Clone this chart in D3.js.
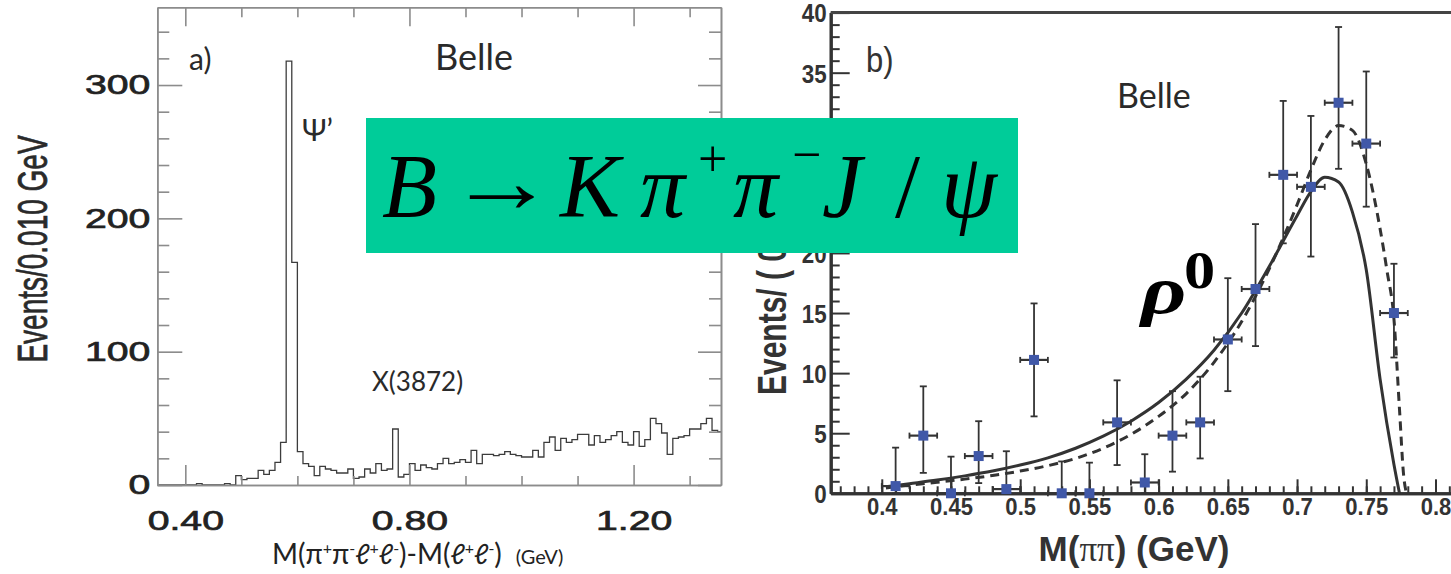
<!DOCTYPE html>
<html>
<head>
<meta charset="utf-8">
<script src="https://cdn.jsdelivr.net/npm/d3@7"></script>
<style>
  body { margin: 0; background: #fff; }
  svg { display: block; background: #fff; }
</style>
</head>
<body>
<svg></svg>
<script>
// ---- panel a: M(pi pi l l) - M(l l), 0.010 GeV bins from 0.35 GeV
let binStart = 0.35;
let binWidth = 0.01;
let histCounts = [
    0, 0, 0, 0, 0, 0, 0, 1, 0, 0,
    0, 0, 1, 0, 7, 4, 5, 5, 11, 8,
    11, 17, 32, 318, 167, 25, 16, 14, 7, 14,
    12, 11, 9, 9, 12, 5, 6, 12, 9, 16,
    11, 12, 42, 6, 8, 16, 11, 15, 13, 12,
    16, 20, 16, 17, 19, 17, 26, 16, 23, 23,
    22, 23, 25, 23, 22, 21, 21, 26, 21, 32,
    36, 26, 35, 32, 34, 38, 38, 30, 37, 32,
    34, 37, 40, 32, 30, 40, 29, 34, 50, 46,
    39, 23, 35, 36, 37, 42, 42, 46, 50, 41,
    40
];
let aMajorX = [0.40, 0.80, 1.20];
let aMinorX = [0.50, 0.60, 0.70, 0.90, 1.00, 1.10, 1.30];
let aMajorY = [0, 100, 200, 300];
let aMinorY = [20, 40, 60, 80, 120, 140, 160, 180, 220, 240, 260, 280, 320, 340];

// ---- panel b: M(pi pi) for X(3872)
let mppX = [0.41, 0.43, 0.45, 0.47, 0.49, 0.51, 0.53, 0.55, 0.57, 0.59,
            0.61, 0.63, 0.65, 0.67, 0.69, 0.71, 0.73, 0.75, 0.77];
let mppY = [0.6, 4.8, 0, 3.1, 0.35, 11.1, 0, 0, 5.9, 0.9,
            4.8, 5.9, 12.8, 17.0, 26.5, 25.5, 32.5, 29.1, 15.0];
let mppLo = [0, 1.7, 0, 0.85, 0, 6.4, 0, 0, 2.35, 0,
             1.8, 2.9, 8.5, 12.25, 20.8, 19.7, 27.0, 23.85, 11.3];
let mppHi = [3.8, 8.9, 3.05, 6.0, 3.5, 15.8, 2.65, 2.55, 9.4, 3.25,
             8.5, 9.7, 17.9, 22.4, 32.65, 31.4, 38.8, 35.1, 19.1];
let halfBin = 0.01;

let solidX = [0.403, 0.42, 0.44, 0.46, 0.48, 0.50, 0.52, 0.54, 0.56, 0.58, 0.60, 0.62,
              0.64, 0.66, 0.68, 0.70, 0.71, 0.72, 0.73, 0.74, 0.75, 0.76, 0.77, 0.774];
let solidY = [0.55, 0.8, 1.1, 1.45, 1.85, 2.35, 2.95, 3.75, 4.75, 6.0, 7.55, 9.5,
              11.9, 15.0, 18.9, 23.1, 25.1, 26.3, 25.9, 23.4, 18.6, 9.5, 2.4, 0];
let dashX = [0.403, 0.42, 0.44, 0.46, 0.48, 0.50, 0.52, 0.54, 0.56, 0.58, 0.60, 0.62,
             0.64, 0.66, 0.68, 0.70, 0.71, 0.72, 0.73, 0.74, 0.75, 0.76, 0.765, 0.77, 0.774, 0.777, 0.779];
let dashY = [0.45, 0.68, 0.92, 1.18, 1.48, 1.85, 2.3, 2.9, 3.75, 4.9, 6.4, 8.3,
             10.9, 14.3, 18.7, 24.0, 26.9, 29.4, 30.6, 30.2, 27.4, 22.0, 18.5, 14.5, 7, 1.5, 0];

let bMajorX = [0.4, 0.45, 0.5, 0.55, 0.6, 0.65, 0.7, 0.75, 0.8];
let bMajorY = [0, 5, 10, 15, 20, 25, 30, 35, 40];

let width = 1451;
let height = 574;
let boxTop = 118;
let boxBottom = 253;

let svg = d3.select('svg')
    .attr('width', width)
    .attr('height', height);

let defs = svg.append('defs');

// ================= panel a =================
let xa = d3.scaleLinear().domain([0.35, 1.356]).range([157.3, 721]);
let ya = d3.scaleLinear().domain([0, 358.3]).range([485, 7.3]);
let frameGrey = '#8c8c8c';
let stretch = 1.4;

defs.append('clipPath')
        .attr('id', 'clip-a')
    .append('rect')
        .attr('x', xa.range()[0])
        .attr('y', ya.range()[1])
        .attr('width', xa.range()[1] - xa.range()[0])
        .attr('height', ya.range()[0] - ya.range()[1]);

let a = svg.append('g').classed('panel-a', true);

let steps = histCounts.map((c, i) => ({ x0: binStart + i * binWidth, count: c }));
steps.push({ x0: binStart + histCounts.length * binWidth, count: histCounts[histCounts.length - 1] });

a.append('path')
    .datum(steps)
    .attr('clip-path', 'url(#clip-a)')
    .attr('fill', 'none')
    .attr('stroke', '#3c3c3c')
    .attr('stroke-width', 1.3)
    .attr('d', d3.line().curve(d3.curveStepAfter).x(d => xa(d.x0)).y(d => ya(d.count)));

function greyAxis(g) {
    g.select('.domain').attr('stroke', frameGrey).attr('stroke-width', 1.6);
    g.selectAll('.tick line').attr('stroke', frameGrey).attr('stroke-width', 1.6);
}

a.append('g').attr('transform', `translate(0 ${ya(0)})`)
    .call(d3.axisBottom(xa).tickValues(aMinorX).tickSize(-9).tickSizeOuter(0).tickFormat(''))
    .call(greyAxis);
a.append('g').attr('transform', `translate(0 ${ya(0)})`)
    .call(d3.axisBottom(xa).tickValues(aMajorX).tickSize(-20).tickSizeOuter(0).tickPadding(25).tickFormat(d3.format('.2f')))
    .call(greyAxis)
    .call(g => g.selectAll('text')
        .attr('fill', '#222')
        .attr('stroke', '#222')
        .attr('stroke-width', 0.7)
        .style('font', '28px "Liberation Sans", Arial, sans-serif')
        .attr('transform', `scale(${stretch} 1)`));

a.append('g').attr('transform', `translate(0 ${ya.range()[1]})`)
    .call(d3.axisTop(xa).tickValues(aMinorX).tickSize(-10).tickSizeOuter(0).tickFormat(''))
    .call(greyAxis);
a.append('g').attr('transform', `translate(0 ${ya.range()[1]})`)
    .call(d3.axisTop(xa).tickValues(aMajorX).tickSize(-19).tickSizeOuter(0).tickFormat(''))
    .call(greyAxis);

a.append('g').attr('transform', `translate(${xa.range()[0]} 0)`)
    .call(d3.axisLeft(ya).tickValues(aMinorY).tickSize(-12).tickSizeOuter(0).tickFormat(''))
    .call(greyAxis);
a.append('g').attr('transform', `translate(${xa.range()[0]} 0)`)
    .call(d3.axisLeft(ya).tickValues(aMajorY).tickSize(-25).tickSizeOuter(0).tickPadding(7))
    .call(greyAxis)
    .call(g => g.selectAll('text')
        .attr('fill', '#222')
        .attr('stroke', '#222')
        .attr('stroke-width', 0.7)
        .attr('x', -7 / stretch)
        .style('font', '28px "Liberation Sans", Arial, sans-serif')
        .attr('transform', `scale(${stretch} 1)`));

a.append('g').attr('transform', `translate(${xa.range()[1]} 0)`)
    .call(d3.axisRight(ya).tickValues(aMinorY).tickSize(-12).tickSizeOuter(0).tickFormat(''))
    .call(greyAxis);
a.append('g').attr('transform', `translate(${xa.range()[1]} 0)`)
    .call(d3.axisRight(ya).tickValues(aMajorY).tickSize(-23).tickSizeOuter(0).tickFormat(''))
    .call(greyAxis);

a.append('text')
    .attr('transform', `translate(47 249) scale(1.5 1) rotate(-90)`)
    .attr('text-anchor', 'middle')
    .attr('fill', '#2a2a2a')
    .attr('stroke', '#2a2a2a')
    .attr('stroke-width', 0.5)
    .style('font', '28px "Liberation Sans", Arial, sans-serif')
    .text('Events/0.010 GeV');

let calib = 'Lato, "Open Sans", sans-serif';
a.append('text').attr('x', 189).attr('y', 70).attr('fill', '#2a2a2a')
    .style('font', `30px ${calib}`).text('a)');
a.append('text').attr('x', 435).attr('y', 70).attr('fill', '#2a2a2a')
    .style('font', `36px ${calib}`).text('Belle');
a.append('text').attr('x', 302).attr('y', 141).attr('fill', '#2a2a2a')
    .style('font', `30px ${calib}`).text('Ψ’');
a.append('text').attr('x', 372).attr('y', 391).attr('fill', '#2a2a2a')
    .style('font', `26px ${calib}`).text('X(3872)');

let xTitleA = a.append('text').attr('x', 272).attr('y', 564).attr('fill', '#222')
    .style('font', `28px ${calib}`);
let sup = t => {
    xTitleA.append('tspan').attr('dy', -10).style('font-size', '16px').text(t);
};
xTitleA.append('tspan').text('M(π');
sup('+');
xTitleA.append('tspan').attr('dy', 10).text('π');
sup('-');
xTitleA.append('tspan').attr('dy', 10).style('font-style', 'italic').text('ℓ');
sup('+');
xTitleA.append('tspan').attr('dy', 10).style('font-style', 'italic').text('ℓ');
sup('-');
xTitleA.append('tspan').attr('dy', 10).text(')-M(');
xTitleA.append('tspan').style('font-style', 'italic').text('ℓ');
sup('+');
xTitleA.append('tspan').attr('dy', 10).style('font-style', 'italic').text('ℓ');
sup('-');
xTitleA.append('tspan').attr('dy', 10).text(')');
xTitleA.append('tspan').attr('dx', 14).style('font-size', '20px').text('(GeV)');

// ================= panel b =================
let xb = d3.scaleLinear().domain([0.3631, 0.83]).range([830.7, 1477]);
let yb = d3.scaleLinear().domain([0, 40]).range([493.3, 12.6]);
let ink = '#333';
let squeeze = 0.86;

let b = svg.append('g').classed('panel-b', true);

function darkAxis(g) {
    g.select('.domain').attr('stroke', ink).attr('stroke-width', 3);
    g.selectAll('.tick line').attr('stroke', ink).attr('stroke-width', 2);
}

b.append('g').attr('transform', `translate(0 ${yb(0)})`)
    .call(d3.axisBottom(xb).tickValues(d3.range(37, 83).map(d => d / 100)).tickSize(-7).tickSizeOuter(0).tickFormat(''))
    .call(darkAxis);
b.append('g').attr('transform', `translate(0 ${yb(0)})`)
    .call(d3.axisBottom(xb).tickValues(bMajorX).tickSize(-14).tickSizeOuter(0).tickPadding(5)
        .tickFormat(d => String(+d.toFixed(2))))
    .call(darkAxis)
    .call(g => g.selectAll('text')
        .attr('fill', ink)
        .style('font', 'bold 24px "Liberation Sans", Arial, sans-serif')
        .attr('transform', 'scale(0.92 1)'));

// labels that the title box covers completely are left out
let hiddenByBox = d => yb(d) - 10 > boxTop && yb(d) + 10 < boxBottom;

b.append('g').attr('transform', `translate(${xb.range()[0]} 0)`)
    .call(d3.axisLeft(yb).tickValues(d3.range(1, 40).filter(d => d % 5 !== 0)).tickSize(-9).tickSizeOuter(0).tickFormat(''))
    .call(darkAxis);
b.append('g').attr('transform', `translate(${xb.range()[0]} 0)`)
    .call(d3.axisLeft(yb).tickValues(bMajorY).tickSize(-19).tickSizeOuter(0).tickPadding(4)
        .tickFormat(d => hiddenByBox(d) ? '' : d))
    .call(darkAxis)
    .call(g => g.selectAll('text')
        .attr('fill', ink)
        .attr('x', -4 / squeeze)
        .attr('dy', '0.36em')
        .style('font', 'bold 26px "Liberation Sans", Arial, sans-serif')
        .attr('transform', `scale(${squeeze} 1)`));

b.append('line')
    .attr('x1', xb.range()[0]).attr('x2', width)
    .attr('y1', yb(40)).attr('y2', yb(40))
    .attr('stroke', '#444').attr('stroke-width', 3);

let solidPts = solidX.map((x, i) => [x, solidY[i]]);
let dashPts = dashX.map((x, i) => [x, dashY[i]]);
let curve = d3.line().curve(d3.curveMonotoneX).x(d => xb(d[0])).y(d => yb(d[1]));

b.append('path').datum(dashPts)
    .attr('fill', 'none').attr('stroke', ink).attr('stroke-width', 3)
    .attr('stroke-dasharray', '9 6')
    .attr('d', curve);
b.append('path').datum(solidPts)
    .attr('fill', 'none').attr('stroke', ink).attr('stroke-width', 3)
    .attr('d', curve);

let points = mppX.map((x, i) => ({ x: x, y: mppY[i], lo: mppLo[i], hi: mppHi[i] }));
let pg = b.selectAll('.pt').data(points).enter().append('g').classed('pt', true);

pg.append('line')
    .attr('x1', d => xb(d.x)).attr('x2', d => xb(d.x))
    .attr('y1', d => yb(d.lo)).attr('y2', d => yb(d.hi))
    .attr('stroke', ink).attr('stroke-width', 1.8);
pg.append('line')
    .attr('x1', d => xb(d.x) - 3.5).attr('x2', d => xb(d.x) + 3.5)
    .attr('y1', d => yb(d.hi)).attr('y2', d => yb(d.hi))
    .attr('stroke', ink).attr('stroke-width', 1.8);
pg.append('line')
    .attr('x1', d => xb(d.x) - 3.5).attr('x2', d => xb(d.x) + 3.5)
    .attr('y1', d => yb(d.lo)).attr('y2', d => yb(d.lo))
    .attr('stroke', ink).attr('stroke-width', 1.8);
pg.append('line')
    .attr('x1', d => xb(d.x - halfBin)).attr('x2', d => xb(d.x + halfBin))
    .attr('y1', d => yb(d.y)).attr('y2', d => yb(d.y))
    .attr('stroke', ink).attr('stroke-width', 2.2);
pg.append('line')
    .attr('x1', d => xb(d.x - halfBin)).attr('x2', d => xb(d.x - halfBin))
    .attr('y1', d => yb(d.y) - 3).attr('y2', d => yb(d.y) + 3)
    .attr('stroke', ink).attr('stroke-width', 1.8);
pg.append('line')
    .attr('x1', d => xb(d.x + halfBin)).attr('x2', d => xb(d.x + halfBin))
    .attr('y1', d => yb(d.y) - 3).attr('y2', d => yb(d.y) + 3)
    .attr('stroke', ink).attr('stroke-width', 1.8);
pg.append('rect')
    .attr('x', d => xb(d.x) - 5).attr('y', d => yb(d.y) - 5)
    .attr('width', 10).attr('height', 10)
    .attr('fill', '#4058a8');

b.append('text')
    .attr('transform', 'translate(786 395) scale(1.35 1) rotate(-90)')
    .attr('fill', ink)
    .style('font', 'bold 30px "Liberation Sans", Arial, sans-serif')
    .text('Events/ ( 0.02 GeV )');

let xTitleB = b.append('text')
    .attr('transform', 'translate(1134 561)')
    .attr('text-anchor', 'middle')
    .attr('fill', ink)
    .style('font', 'bold 35px "Liberation Sans", Arial, sans-serif');
xTitleB.append('tspan').text('M(');
xTitleB.append('tspan').style('font-family', '"Liberation Serif", serif').style('font-weight', 'normal').text('ππ');
xTitleB.append('tspan').text(') (GeV)');

b.append('text').attr('transform', 'translate(866 72) scale(0.86 1)').attr('fill', ink)
    .style('font', '36px "Liberation Sans", Arial, sans-serif').text('b)');
b.append('text').attr('x', 1117).attr('y', 108).attr('fill', '#2a2a2a')
    .style('font', `34px ${calib}`).text('Belle');

b.append('text').attr('transform', 'translate(1141 313) scale(1.3 1)').attr('fill', '#000')
    .style('font', 'italic bold 68px "Liberation Serif", serif').text('ρ');
b.append('text').attr('transform', 'translate(1184 288) scale(1.2 1)').attr('fill', '#000')
    .style('font', 'bold 52px "Liberation Serif", serif').text('0');

// ================= title box =================
let box = svg.append('g').classed('title-box', true);
box.append('rect')
    .attr('x', 366).attr('y', boxTop).attr('width', 652).attr('height', boxBottom - boxTop)
    .attr('fill', '#00cc99');

let mathFont = '"Liberation Serif", "Times New Roman", serif';
let mathParts = [
    { t: 'B', x: 382, y: 217, size: 90, italic: true, sx: 1 },
    { t: '→', x: 448, y: 212, size: 90, italic: false, sx: 1.2 },
    { t: 'K', x: 560, y: 217, size: 90, italic: true, sx: 1 },
    { t: 'π', x: 640, y: 217, size: 90, italic: true, sx: 1 },
    { t: '+', x: 698, y: 176, size: 52, italic: false, sx: 1 },
    { t: 'π', x: 733, y: 217, size: 90, italic: true, sx: 1 },
    { t: '−', x: 792, y: 172, size: 52, italic: false, sx: 1 },
    { t: 'J', x: 822, y: 217, size: 90, italic: true, sx: 1 },
    { t: '/', x: 895, y: 217, size: 90, italic: false, sx: 1 },
    { t: 'ψ', x: 941, y: 217, size: 90, italic: true, sx: 1 }
];
box.selectAll('.math').data(mathParts).enter().append('text')
    .classed('math', true)
    .attr('transform', d => `translate(${d.x} ${d.y}) scale(${d.sx} 1)`)
    .attr('fill', '#000')
    .style('font-family', mathFont)
    .style('font-size', d => `${d.size}px`)
    .style('font-style', d => d.italic ? 'italic' : 'normal')
    .text(d => d.t);
</script>
</body>
</html>
